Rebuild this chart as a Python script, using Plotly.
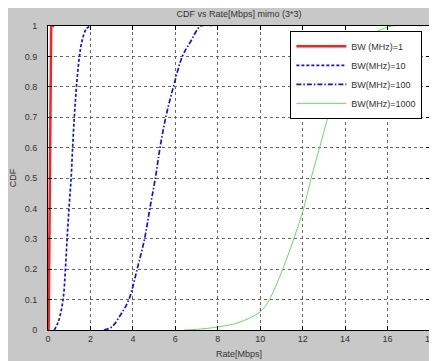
import plotly.graph_objects as go

bw1_x = [0.03, 0.06, 0.09, 0.12, 0.15, 0.3]
bw1_y = [0.0, 0.3, 0.6, 0.85, 1.0, 1.0]

bw10_x = [0.3, 0.5, 0.71, 0.82, 0.9, 0.99, 1.09, 1.16, 1.24, 1.34, 1.48, 1.6, 1.8, 1.97]
bw10_y = [0.0, 0.03, 0.1, 0.2, 0.3, 0.4, 0.5, 0.6, 0.7, 0.8, 0.9, 0.95, 0.99, 1.0]

bw100_x = [2.63, 3.0, 3.42, 3.81, 4.2, 4.55, 4.8, 5.06, 5.28, 5.55, 5.91, 6.33, 6.73, 7.2, 7.7]
bw100_y = [0.0, 0.01, 0.05, 0.1, 0.2, 0.3, 0.4, 0.5, 0.6, 0.7, 0.8, 0.9, 0.95, 1.0, 1.0]

bw1000_x = [6.4, 7.0, 8.0, 9.0, 10.0, 10.43, 11.06, 11.58, 12.05, 12.4, 12.8, 13.19, 13.63, 14.3, 15.0, 16.2, 17.6]
bw1000_y = [0.0, 0.002, 0.01, 0.025, 0.06, 0.1, 0.2, 0.3, 0.4, 0.5, 0.6, 0.7, 0.8, 0.9, 0.96, 1.0, 1.0]

x_ticks = [0, 2, 4, 6, 8, 10, 12, 14, 16, 18]
y_ticks = [0, 0.1, 0.2, 0.3, 0.4, 0.5, 0.6, 0.7, 0.8, 0.9, 1]
y_tick_text = ["0", "0.1", "0.2", "0.3", "0.4", "0.5", "0.6", "0.7", "0.8", "0.9", "1"]

fig = go.Figure()
fig.add_trace(go.Scatter(x=bw1_x, y=bw1_y, mode="lines", name="BW (MHz)=1",
                         line=dict(color="#ff2020", width=2.5)))
fig.add_trace(go.Scatter(x=bw10_x, y=bw10_y, mode="lines", name="BW(MHz)=10",
                         line=dict(color="#1010ee", width=1.7, dash="3px,2px"), line_shape="spline"))
fig.add_trace(go.Scatter(x=bw100_x, y=bw100_y, mode="lines", name="BW(MHz)=100",
                         line=dict(color="#1010ee", width=1.7, dash="5px,2px,1.5px,2px"), line_shape="spline"))
fig.add_trace(go.Scatter(x=bw1000_x, y=bw1000_y, mode="lines", name="BW(MHz)=1000",
                         line=dict(color="#66dd66", width=1), line_shape="spline"))

axis_common = dict(showline=True, linecolor="black", linewidth=1, mirror="ticks",
                   ticks="inside", ticklen=4, tickcolor="black",
                   showgrid=True, gridcolor="#666666", griddash="dot", gridwidth=0.5,
                   zeroline=False, automargin=False,
                   tickfont=dict(size=9, color="#333333"))

fig.update_layout(
    width=429, height=353,
    paper_bgcolor="#c8c8c8", plot_bgcolor="white",
    margin=dict(l=39.5, r=7, t=18, b=30.5),
    font=dict(family="Liberation Sans, Arial, sans-serif", size=9, color="#333333"),
    title=dict(text="CDF vs Rate[Mbps] mimo (3*3)", x=0.5, xref="paper", xanchor="center",
               y=1 - 5.5 / 353, yanchor="middle", font=dict(size=9, color="#333333")),
    xaxis=dict(range=[0, 18], tickvals=x_ticks, ticklabelstandoff=0,
               title=dict(text="Rate[Mbps]", standoff=7, font=dict(size=9)), **axis_common),
    yaxis=dict(range=[0, 1], tickvals=y_ticks, ticktext=y_tick_text, ticklabelstandoff=8,
               title=dict(text="CDF", standoff=8, font=dict(size=9)), **axis_common),
    legend=dict(x=0.98, y=0.984, xanchor="right", yanchor="top",
                bgcolor="white", bordercolor="black", borderwidth=1,
                font=dict(size=9, color="#333333"), tracegroupgap=0,
                itemwidth=50),
    showlegend=True,
)

fig.write_html("out.html")
